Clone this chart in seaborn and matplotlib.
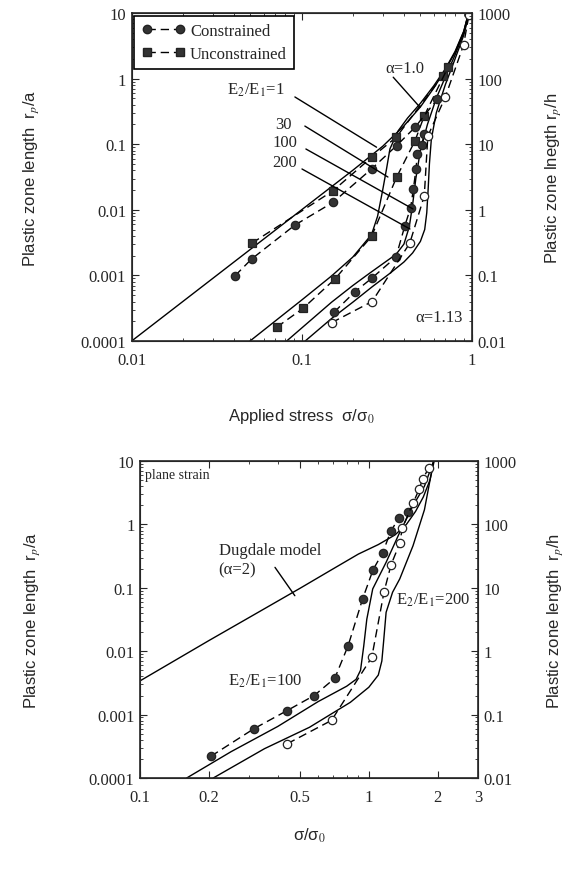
import numpy as np
import pandas as pd
import matplotlib
matplotlib.use("Agg")
import matplotlib.pyplot as plt
import seaborn as sns
from matplotlib.lines import Line2D
from matplotlib.ticker import FixedLocator, FuncFormatter, LogLocator, NullFormatter

# ---- upper panel: applied stress vs plastic zone length ----
# E2/E1 = 1 (solid model line)
s1_x = [0.01, 0.1, 0.2, 0.3, 0.4, 0.5, 0.6, 0.7, 0.8, 0.9, 0.96]
s1_y = [1e-4, 0.01, 0.04, 0.093, 0.19, 0.37, 0.72, 1.35, 2.5, 5.2, 10]
# E2/E1 = 30
s30_x = [0.0497, 0.1, 0.15, 0.2, 0.258, 0.28, 0.30, 0.316, 0.331, 0.37, 0.42, 0.5, 0.6, 0.7, 0.8, 0.9, 0.96]
s30_y = [1e-4, 4.2e-4, 9.8e-4, 1.9e-3, 4.2e-3, 0.008, 0.02, 0.042, 0.085, 0.16, 0.25, 0.42, 0.78, 1.4, 2.6, 5.3, 10]
# E2/E1 = 100
s100_x = [0.0817, 0.15, 0.2, 0.25, 0.3, 0.36, 0.4, 0.43, 0.45, 0.47, 0.5, 0.55, 0.62, 0.7, 0.8, 0.9, 0.96]
s100_y = [1e-4, 3.9e-4, 7e-4, 1.07e-3, 1.5e-3, 2.1e-3, 3.0e-3, 5.5e-3, 0.012, 0.03, 0.08, 0.2, 0.5, 1.05, 2.3, 5, 10]
# E2/E1 = 200
s200_x = [0.105, 0.15, 0.2, 0.26, 0.33, 0.4, 0.45, 0.5, 0.53, 0.545, 0.555, 0.565, 0.58, 0.62, 0.7, 0.8, 0.9, 0.97]
s200_y = [1e-4, 2.2e-4, 3.9e-4, 6.7e-4, 1.07e-3, 1.6e-3, 2.2e-3, 3.3e-3, 5.0e-3, 9e-3, 0.02, 0.05, 0.12, 0.3, 0.8, 2.0, 4.6, 10]

# unconstrained (squares)
u1_x = [0.051, 0.153, 0.258, 0.36, 0.675]
u1_y = [0.0031, 0.0195, 0.063, 0.127, 1.1]
u30_x = [0.0713, 0.102, 0.157, 0.258, 0.362, 0.465, 0.527, 0.726]
u30_y = [1.62e-4, 3.15e-4, 8.8e-4, 3.94e-3, 0.0313, 0.113, 0.271, 1.48]
# constrained (filled circles)
c1_x = [0.0406, 0.0508, 0.0914, 0.153, 0.258, 0.362, 0.465, 0.63]
c1_y = [0.00099, 0.00178, 0.00586, 0.013, 0.042, 0.095, 0.181, 0.49]
c100_x = [0.155, 0.206, 0.258, 0.359, 0.405, 0.438, 0.455, 0.471, 0.48, 0.51, 0.527]
c100_y = [2.74e-4, 5.64e-4, 9.0e-4, 1.9e-3, 5.7e-3, 0.0108, 0.021, 0.042, 0.071, 0.098, 0.143]
# constrained E2/E1 = 200 (open circles)
c200_x = [0.15, 0.26, 0.433, 0.527, 0.553, 0.70, 0.897, 0.966]
c200_y = [1.9e-4, 4.0e-4, 3.1e-3, 0.0163, 0.133, 0.52, 3.25, 9.4]

# ---- lower panel: plane strain ----
dug_x = [0.1, 0.2, 0.3, 0.5, 0.7, 0.9, 1.1, 1.3, 1.46, 1.6, 1.73, 1.85, 1.93]
dug_y = [0.0034, 0.0147, 0.034, 0.098, 0.2, 0.34, 0.48, 0.68, 1.0, 1.6, 2.7, 5, 10]
la_x = [0.16, 0.25, 0.4, 0.6, 0.8, 0.88, 0.92, 0.95, 0.98, 1.04, 1.19, 1.365, 1.56, 1.75, 1.92]
la_y = [1e-4, 2.6e-4, 6.5e-4, 1.6e-3, 2.8e-3, 3.6e-3, 5e-3, 0.012, 0.032, 0.096, 0.252, 0.75, 1.97, 4, 10]
lb_x = [0.209, 0.35, 0.55, 0.83, 1.0, 1.1, 1.14, 1.16, 1.19, 1.27, 1.365, 1.56, 1.75, 1.92]
lb_y = [1e-4, 2.9e-4, 6.3e-4, 1.56e-3, 2.7e-3, 4.2e-3, 7e-3, 0.014, 0.041, 0.085, 0.138, 0.46, 1.7, 10]
lf_x = [0.204, 0.315, 0.440, 0.577, 0.710, 0.812, 0.939, 1.044, 1.148, 1.248, 1.35, 1.49]
lf_y = [2.2e-4, 6.0e-4, 1.16e-3, 2.0e-3, 3.74e-3, 0.0122, 0.0665, 0.193, 0.354, 0.78, 1.25, 1.55]
lo_x = [0.44, 0.687, 1.03, 1.166, 1.25, 1.365, 1.40, 1.56, 1.66, 1.72, 1.83]
lo_y = [3.47e-4, 8.1e-4, 8.0e-3, 0.0869, 0.229, 0.504, 0.87, 2.15, 3.6, 5.2, 7.8]

sns.set_style("ticks")
plt.rcParams["font.family"] = ["Liberation Serif", "DejaVu Serif"]
plt.rcParams["mathtext.fontset"] = "stix"

DASH = (0, (6, 3.5))
MFC = "#333333"


def draw(ax, x, y, ls="-", marker=None, open_marker=False):
    df = pd.DataFrame({"x": x, "y": y})
    kw = dict(color="black", linestyle=ls, linewidth=1.0)
    if marker is not None:
        kw.update(marker=marker, markersize=6,
                  markerfacecolor="white" if open_marker else MFC,
                  markeredgecolor="#222222", markeredgewidth=0.9)
    sns.lineplot(data=df, x="x", y="y", ax=ax, sort=False, estimator=None, **kw)


fmt = FuncFormatter(lambda v, p: f"{v:g}")
sans = ["Liberation Sans", "DejaVu Sans"]


def style_axes(ax, xlim, xticks, right_label, ylab_x, rlab_x):
    ax.set_xscale("log")
    ax.set_yscale("log")
    ax.set_xlim(*xlim)
    ax.set_ylim(1e-4, 10)
    ax.xaxis.set_major_locator(FixedLocator(xticks))
    ax.xaxis.set_major_formatter(fmt)
    ax.xaxis.set_minor_locator(LogLocator(subs=np.arange(2, 10)))
    ax.xaxis.set_minor_formatter(NullFormatter())
    ax.yaxis.set_major_locator(FixedLocator([1e-4, 1e-3, 1e-2, 0.1, 1, 10]))
    ax.yaxis.set_major_formatter(fmt)
    ax.yaxis.set_minor_locator(LogLocator(subs=np.arange(2, 10)))
    ax.yaxis.set_minor_formatter(NullFormatter())
    ax.tick_params(which="both", direction="in", top=True, labelsize=12)
    ax.tick_params(axis="x", which="both", pad=8)
    ax.tick_params(axis="y", which="both", pad=4)
    ax.tick_params(which="major", length=5)
    ax.tick_params(which="minor", length=2.5)
    for sp in ax.spines.values():
        sp.set_linewidth(1.2)
    ax.set_ylabel("Plastic zone length  r$_p$/a", family=sans, fontsize=12)
    ax.yaxis.set_label_coords(ylab_x, 0.5)
    ax2 = ax.twinx()
    ax2.set_yscale("log")
    ax2.set_ylim(0.01, 1000)
    ax2.yaxis.set_major_locator(FixedLocator([0.01, 0.1, 1, 10, 100, 1000]))
    ax2.yaxis.set_major_formatter(fmt)
    ax2.yaxis.set_minor_locator(LogLocator(subs=np.arange(2, 10)))
    ax2.yaxis.set_minor_formatter(NullFormatter())
    ax2.tick_params(which="both", direction="in", labelsize=12, pad=4)
    ax2.tick_params(which="major", length=5)
    ax2.tick_params(which="minor", length=2.5)
    ax2.set_ylabel(right_label, family=sans, fontsize=12)
    ax2.yaxis.set_label_coords(rlab_x, 0.5)
    return ax2


fig = plt.figure(figsize=(5.86, 8.70), dpi=100)
fig.patch.set_facecolor("white")

# ---------------- top panel ----------------
ax = fig.add_axes([0.2247, 0.6069, 0.580, 0.377])
for xs, ys in [(s1_x, s1_y), (s30_x, s30_y), (s100_x, s100_y), (s200_x, s200_y)]:
    draw(ax, xs, ys, "-")
draw(ax, u1_x, u1_y, DASH, "s")
draw(ax, u30_x, u30_y, DASH, "s")
draw(ax, c1_x, c1_y, DASH, "o")
draw(ax, c100_x, c100_y, DASH, "o")
draw(ax, c200_x, c200_y, DASH, "o", open_marker=True)
style_axes(ax, (0.01, 1), [0.01, 0.1, 1], "Plastic zone lnegth r$_p$/h", -0.267, 1.21)
ax.set_xlabel("Applied stress  σ/σ$_0$", family=sans, fontsize=12)
ax.xaxis.set_label_coords(0.5, -0.198)

leaders_top = [((0.346, 1.05), (0.497, 0.366)),
               ((0.0913, 0.525), (0.276, 0.09)),
               ((0.1045, 0.189), (0.322, 0.0316)),
               ((0.106, 0.0845), (0.452, 0.0103)),
               ((0.1005, 0.0419), (0.434, 0.0051))]
for (x0, y0), (x1, y1) in leaders_top:
    ax.plot([x0, x1], [y0, y1], color="black", lw=1.0)
ax.text(0.405, 1.45, "α=1.0", fontsize=12, ha="center", va="center")
ax.text(0.0536, 0.69, "E$_2$/E$_1$=1", fontsize=12, ha="center", va="center")
ax.text(0.078, 0.203, "30", fontsize=12, ha="center", va="center")
ax.text(0.0798, 0.108, "100", fontsize=12, ha="center", va="center")
ax.text(0.0798, 0.0536, "200", fontsize=12, ha="center", va="center")
ax.text(0.643, 2.3e-4, "α=1.13", fontsize=12, ha="center", va="center")

h_c = Line2D([0], [0], color="black", ls=DASH, lw=1.0, marker="o", ms=6,
             mfc=MFC, mec="#222222")
h_u = Line2D([0], [0], color="black", ls=DASH, lw=1.0, marker="s", ms=6,
             mfc=MFC, mec="#222222")
leg = ax.legend([h_c, h_u], ["Constrained", "Unconstrained"], loc="upper left",
                fontsize=12, numpoints=2, handlelength=2.6, handletextpad=0.3,
                borderaxespad=0.15, fancybox=False, framealpha=1,
                edgecolor="black", borderpad=0.45, labelspacing=0.4)
leg.get_frame().set_linewidth(1.2)

# ---------------- bottom panel ----------------
bx = fig.add_axes([0.2389, 0.1046, 0.5768, 0.3644])
draw(bx, dug_x, dug_y, "-")
draw(bx, la_x, la_y, "-")
draw(bx, lb_x, lb_y, "-")
draw(bx, lf_x, lf_y, DASH, "o")
draw(bx, lo_x, lo_y, DASH, "o", open_marker=True)
style_axes(bx, (0.1, 3), [0.1, 0.2, 0.5, 1, 2, 3], "Plastic zone length  r$_p$/h", -0.29, 1.2)
bx.set_xlabel("σ/σ$_0$", family=sans, fontsize=12)
bx.xaxis.set_label_coords(0.5, -0.151)

bx.plot([0.389, 0.475], [0.21, 0.075], color="black", lw=1.0)
bx.text(0.105, 6.2, "plane strain", fontsize=10, ha="left", va="center")
bx.text(0.221, 0.39, "Dugdale model", fontsize=12, ha="left", va="center")
bx.text(0.22, 0.198, "(α=2)", fontsize=12, ha="left", va="center")
bx.text(1.31, 0.065, "E$_2$/E$_1$=200", fontsize=12, ha="left", va="center")
bx.text(0.243, 0.00343, "E$_2$/E$_1$=100", fontsize=12, ha="left", va="center")

fig.savefig("out.png", dpi=100, facecolor="white")
